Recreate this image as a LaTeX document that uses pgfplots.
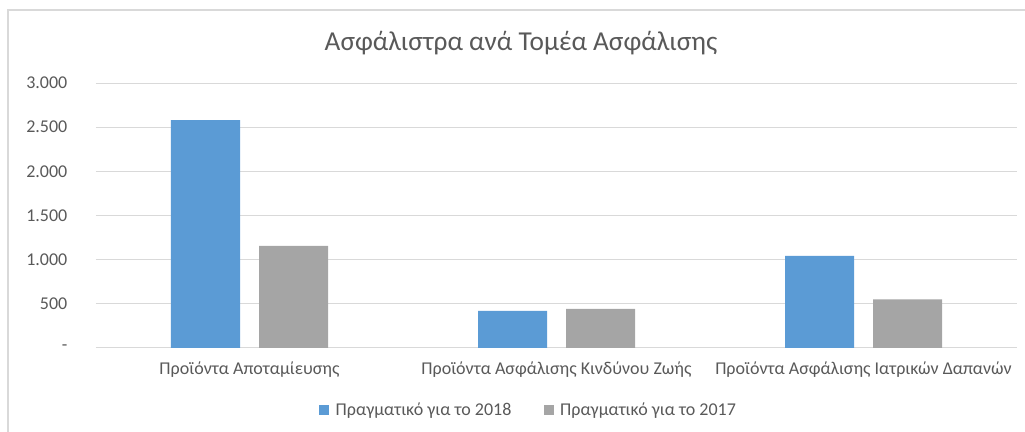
\documentclass[border=0pt]{standalone}
\usepackage{pgfplots}
\pgfplotsset{compat=1.18}
\usepackage{fontspec}
\setmainfont{Carlito}
\definecolor{blueA}{HTML}{5B9BD5}
\definecolor{grayA}{HTML}{A5A5A5}
\definecolor{txt}{HTML}{595959}
\definecolor{gridc}{HTML}{D9D9D9}
\begin{document}
\begin{tikzpicture}[x=0.75pt,y=0.75pt]
\path[use as bounding box] (0,0) rectangle (1025,432);
\draw[gridc, line width=1.5pt] (8,0) -- (8,422) -- (1025,422);
\node[txt, font=\fontsize{20.5}{24}\selectfont] at (521,389) {Ασφάλιστρα ανά Τομέα Ασφάλισης};
\begin{axis}[
  at={(72pt,63pt)}, anchor=south west,
  scale only axis, width=690.75pt, height=198.75pt,
  ymin=0, ymax=3000, xmin=-0.5, xmax=2.5,
  ytick={0,500,1000,1500,2000,2500,3000},
  yticklabels={-\hspace{9pt},500,1.000,1.500,2.000,2.500,3.000},
  xtick={0,1,2},
  xticklabels={Προϊόντα Αποταμίευσης,Προϊόντα Ασφάλισης Κινδύνου Ζωής,Προϊόντα Ασφάλισης Ιατρικών Δαπανών},
  major tick length=0pt,
  axis line style={draw=none},
  ymajorgrids, grid style={gridc, line width=0.75pt},
  ticklabel style={txt, font=\fontsize{13.5}{15}\selectfont},
  yticklabel style={xshift=-18pt},
  xticklabel style={yshift=-7pt},
  ybar, bar width=51.75pt,
  legend columns=2,
  legend style={draw=none, fill=none, at={(0.470,-0.234)}, anchor=center,
    font=\fontsize{13.5}{15}\selectfont, text=txt,
    /tikz/every odd column/.append style={column sep=3pt},
    /tikz/every even column/.append style={column sep=22pt}},
  legend image code/.code={\fill[#1] (0pt,-3.75pt) rectangle (7.5pt,3.75pt);},
]
\addplot[fill=blueA, draw=none, bar shift=-33pt] coordinates {(0,2581) (1,419) (2,1042)};
\addplot[fill=grayA, draw=none, bar shift=33pt] coordinates {(0,1155) (1,442) (2,551)};
\legend{Πραγματικό για το 2018,Πραγματικό για το 2017}
\end{axis}
\end{tikzpicture}
\end{document}
